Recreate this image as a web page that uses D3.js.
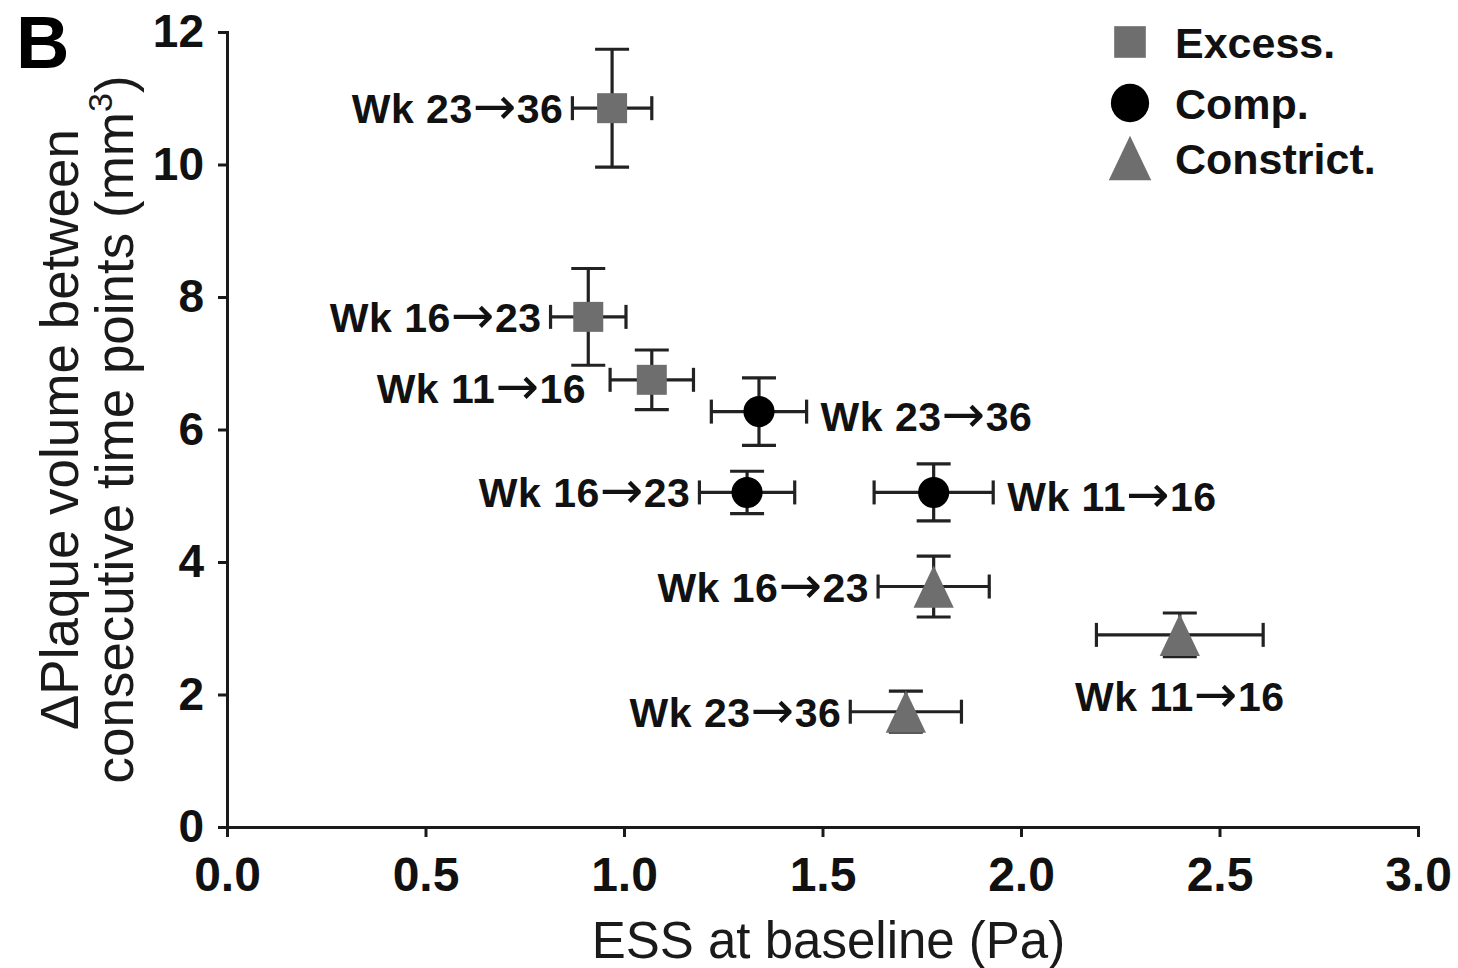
<!DOCTYPE html>
<head>
    <meta charset="utf-8">
    <style>
      body {
          margin: 0;
          background: #fff;
          font-family: 'Liberation Sans', Arial, sans-serif;
      }

      .axis path, .axis line {
        stroke: #1a1a1a;
        stroke-width: 3px;
      }

      .axis text {
        font-family: 'Liberation Sans', Arial, sans-serif;
        font-weight: bold;
        fill: #111;
      }

      .err {
        stroke: #222;
        stroke-width: 3.2px;
        fill: none;
      }

      .lbl {
        font-weight: bold;
        font-size: 41px;
        letter-spacing: 0.5px;
        fill: #111;
      }

      .arrow {
        font-family: 'DejaVu Sans', sans-serif;
        font-weight: normal;
        font-size: 52px;
      }

      .title {
        fill: #1a1a1a;
      }
  </style>
</head>
<body>
<svg id="chart" width="1458" height="968"></svg>
<script src="https://cdn.jsdelivr.net/npm/d3@7"></script>
<script>
  // series names, colours of their markers
  var seriesNames = ["Excess.", "Comp.", "Constrict."];
  var seriesColors = ["#6e6e6e", "#000000", "#6e6e6e"];

  // ESS at baseline (Pa), delta plaque volume (mm3) and their error half-widths
  // labels are [from week, to week]
  var excessWeeks = [["23", "36"], ["16", "23"], ["11", "16"]];
  var excessX = [0.97, 0.91, 1.07];
  var excessY = [10.85, 7.70, 6.75];
  var excessXErr = [0.10, 0.095, 0.105];
  var excessYErr = [0.89, 0.73, 0.45];
  var excessSide = ["left", "left", "left"];

  var compWeeks = [["23", "36"], ["16", "23"], ["11", "16"]];
  var compX = [1.34, 1.31, 1.78];
  var compY = [6.27, 5.05, 5.05];
  var compXErr = [0.12, 0.12, 0.15];
  var compYErr = [0.51, 0.32, 0.43];
  var compSide = ["right", "left", "right"];

  var constrictWeeks = [["16", "23"], ["11", "16"], ["23", "36"]];
  var constrictX = [1.78, 2.40, 1.71];
  var constrictY = [3.63, 2.90, 1.74];
  var constrictXErr = [0.14, 0.21, 0.14];
  var constrictYErr = [0.46, 0.33, 0.31];
  var constrictSide = ["left", "below", "left"];

  var xTicks = [0, 0.5, 1, 1.5, 2, 2.5, 3];
  var yTicks = [0, 2, 4, 6, 8, 10, 12];

  var svg = d3.select("#chart");
  var margin = { top: 32, right: 40, bottom: 141, left: 227 };
  var width = svg.attr("width") - margin.left - margin.right;
  var height = svg.attr("height") - margin.top - margin.bottom;

  var x = d3.scaleLinear().domain([0, 3]).range([margin.left, margin.left + width]);
  var y = d3.scaleLinear().domain([0, 12]).range([margin.top + height, margin.top]);

  // triangle centred on its bounding box, a bit taller than equilateral
  var triangle = {
    draw: function(ctx, size) {
      var w = Math.sqrt(size) * 1.5, h = w * 1.05;
      ctx.moveTo(0, -h / 2);
      ctx.lineTo(w / 2, h / 2);
      ctx.lineTo(-w / 2, h / 2);
      ctx.closePath();
    }
  };
  var symbols = [d3.symbolSquare, d3.symbolCircle, triangle];
  var sizes = [900, 760, 720];

  function rows(weeks, xs, ys, xe, ye, side, s) {
    return weeks.map(function(w, i) {
      return { s: s, wk: w, x: xs[i], y: ys[i], xe: xe[i], ye: ye[i], side: side[i] };
    });
  }
  var data = [].concat(
    rows(excessWeeks, excessX, excessY, excessXErr, excessYErr, excessSide, 0),
    rows(compWeeks, compX, compY, compXErr, compYErr, compSide, 1),
    rows(constrictWeeks, constrictX, constrictY, constrictXErr, constrictYErr, constrictSide, 2)
  );

  // axes
  svg.append("g")
      .attr("class", "axis")
      .attr("transform", "translate(0," + (margin.top + height) + ")")
      .call(d3.axisBottom(x).tickValues(xTicks).tickFormat(d3.format(".1f")).tickSizeOuter(0).tickSize(10).tickPadding(20))
      .selectAll("text").style("font-size", "48px");
  svg.append("g")
      .attr("class", "axis")
      .attr("transform", "translate(" + margin.left + ",0)")
      .call(d3.axisLeft(y).tickValues(yTicks).tickSizeOuter(0).tickSize(9).tickPadding(14))
      .selectAll("text").style("font-size", "46px");

  // axis titles
  svg.append("text")
      .attr("class", "title")
      .attr("x", x(1.5) + 6)
      .attr("y", 958)
      .attr("text-anchor", "middle")
      .style("font-size", "51px")
      .text("ESS at baseline (Pa)");
  var yt = svg.append("text")
      .attr("class", "title")
      .attr("transform", "translate(78," + y(6) + ") rotate(-90)")
      .attr("text-anchor", "middle")
      .style("font-size", "53px");
  yt.append("tspan").attr("x", 0).attr("dy", 0).text("\u0394Plaque volume between");
  var yt2 = yt.append("tspan").attr("x", 0).attr("dy", 55);
  yt2.append("tspan").text("consecutive time points (mm");
  yt2.append("tspan").attr("dy", -21).style("font-size", "34px").text("3");
  yt2.append("tspan").attr("dy", 21).text(")");

  // panel letter
  svg.append("text")
      .attr("x", 16)
      .attr("y", 68)
      .style("font-size", "74px")
      .style("font-weight", "bold")
      .text("B");

  // error bars
  var bars = svg.append("g").selectAll("g").data(data).join("g");
  bars.append("line").attr("class", "err")
      .attr("x1", d => x(d.x - d.xe)).attr("x2", d => x(d.x + d.xe))
      .attr("y1", d => y(d.y)).attr("y2", d => y(d.y));
  bars.append("line").attr("class", "err")
      .attr("x1", d => x(d.x)).attr("x2", d => x(d.x))
      .attr("y1", d => y(d.y - d.ye)).attr("y2", d => y(d.y + d.ye));
  [-1, 1].forEach(function(k) {
    bars.append("line").attr("class", "err")
        .attr("x1", d => x(d.x + k * d.xe)).attr("x2", d => x(d.x + k * d.xe))
        .attr("y1", d => y(d.y) - 12).attr("y2", d => y(d.y) + 12);
    bars.append("line").attr("class", "err")
        .attr("x1", d => x(d.x) - 17).attr("x2", d => x(d.x) + 17)
        .attr("y1", d => y(d.y + k * d.ye)).attr("y2", d => y(d.y + k * d.ye));
  });

  // markers
  svg.append("g").selectAll("path").data(data).join("path")
      .attr("transform", d => "translate(" + x(d.x) + "," + y(d.y) + ")")
      .attr("d", d => d3.symbol().type(symbols[d.s]).size(sizes[d.s])())
      .attr("fill", d => seriesColors[d.s]);

  // point labels
  var lbl = svg.append("g").selectAll("text").data(data).join("text")
      .attr("class", "lbl")
      .attr("text-anchor", d => d.side == "left" ? "end" : d.side == "right" ? "start" : "middle")
      .attr("x", function(d) {
        if (d.side == "left") return x(d.x - d.xe) - (d.s == 0 && d.y < 7 ? 24 : 9);
        if (d.side == "right") return x(d.x + d.xe) + 14;
        return x(d.x);
      })
      .attr("y", function(d) {
        if (d.side == "below") return y(d.y) + 76;
        return y(d.y) + 15 + (d.s == 0 && d.y < 7 ? 8 : 0) + (d.s == 1 && d.side == "right" ? 4 : 0);
      });
  lbl.append("tspan").text(d => "Wk " + d.wk[0]);
  lbl.append("tspan").attr("class", "arrow").attr("dy", 1).text("\u2192");
  lbl.append("tspan").attr("dy", -1).text(d => d.wk[1]);

  // legend
  var legend = svg.append("g").selectAll("g").data(seriesNames).join("g")
      .attr("transform", (d, i) => "translate(1130," + [42, 103, 158][i] + ")");
  legend.append("path")
      .attr("d", (d, i) => d3.symbol().type(symbols[i]).size([1000, 1150, 800][i])())
      .attr("fill", (d, i) => seriesColors[i]);
  legend.append("text")
      .attr("x", 45)
      .attr("y", 16)
      .style("font-size", "43px")
      .style("font-weight", "bold")
      .style("fill", "#111")
      .text(d => d);
</script>
</body>
